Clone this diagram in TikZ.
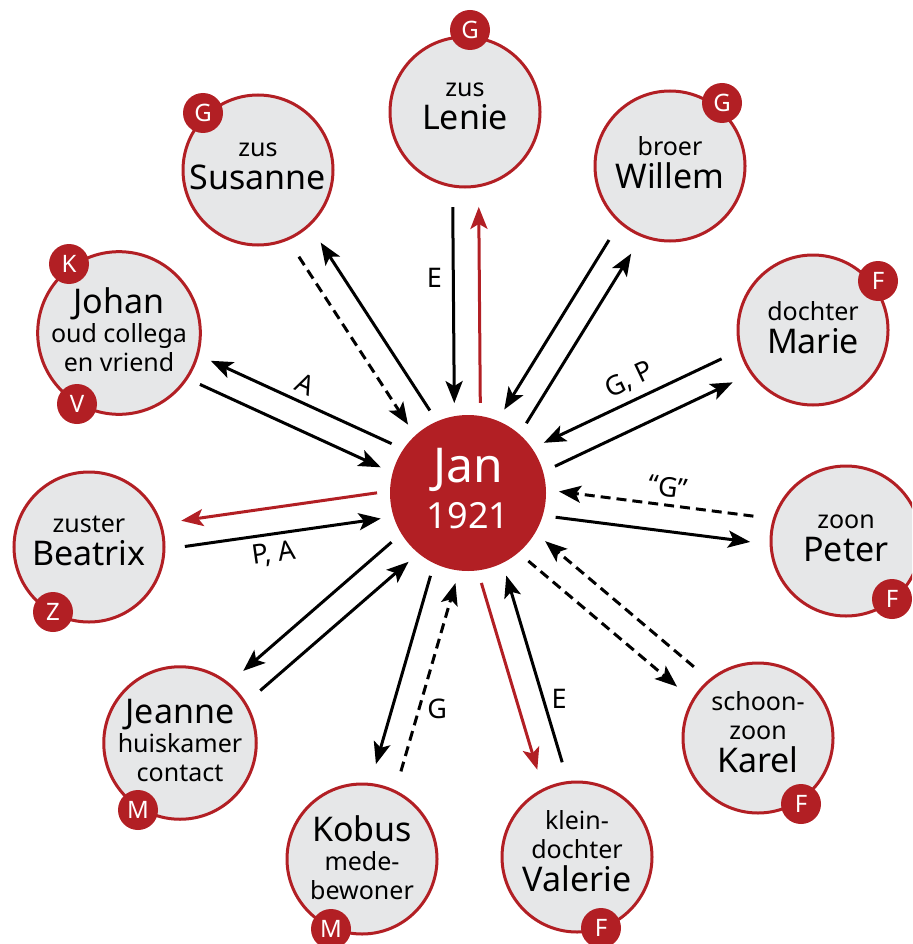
\documentclass[tikz,border=0pt]{standalone}
\usepackage{fontspec}
\setmainfont{Noto Sans}
\usetikzlibrary{arrows.meta,calc}

\definecolor{janred}{RGB}{178,31,36}
\definecolor{circlegray}{RGB}{230,231,232}

\newcommand{\sm}{\fontsize{25}{29}\selectfont}
\newcommand{\nm}{\fontsize{34}{29}\selectfont}

\begin{document}
\begin{tikzpicture}[x=1pt,y=-1pt,
    person/.style={circle,draw=janred,line width=3pt,fill=circlegray,minimum size=150pt,inner sep=0pt,align=center,font=\sm,text depth=12pt},
    badge/.style={circle,fill=janred,text=white,minimum size=40pt,inner sep=0pt,font=\fontsize{24}{24}\selectfont\bfseries},
    link/.style={line width=3pt,-{Stealth[length=22pt,width=17pt,inset=5pt]}},
    back/.style={link,janred},
    hint/.style={link,dash pattern=on 10pt off 6pt},
    lbl/.style={font=\fontsize{27}{27}\selectfont,inner sep=7pt}]

    \pgfmathsetmacro{\janGap}{90}
    \pgfmathsetmacro{\outGap}{95}
    \pgfmathsetmacro{\pairGap}{13}

    \useasboundingbox (0,0) rectangle (912,944);
    \clip (0,0) rectangle (912,944);

    % Jan
    \node[circle,fill=janred,text=white,minimum size=156pt,inner sep=0pt,align=center,
      font=\fontsize{48}{46}\selectfont,text depth=10pt] (jan) at (468,493) {Jan\\\fontsize{36}{46}\selectfont 1921};

    % Familie en contacten
    \node[person] (lenie) at (465,112) {zus\\[4pt]\nm Lenie};
    \node[person,text depth=6pt] (willem) at (670,166) {broer\\[4pt]\nm Willem};
    \node[person,text depth=8pt] (susanne) at (258,170) {zus\\[4pt]\nm Susanne};
    \node[person,text depth=6pt] (marie) at (813,330) {dochter\\[4pt]\nm Marie};
    \node[person,text depth=6pt] (johan) at (119,333) {\nm Johan\\oud collega\\en vriend};
    \node[person,text depth=6pt] (peter) at (846,541) {zoon\\[4pt]\nm Peter};
    \node[person] (beatrix) at (89,547) {zuster\\[4pt]\nm Beatrix};
    \node[person] (karel) at (758,738) {schoon-\\zoon\\[4pt]\nm Karel};
    \node[person,text depth=6pt] (jeanne) at (180,743) {\nm Jeanne\\huiskamer\\contact};
    \node[person] (valerie) at (577,857) {klein-\\dochter\\[4pt]\nm Valerie};
    \node[person,text depth=2pt] (kobus) at (362,859) {\nm Kobus\\mede-\\bewoner};

    % Rollen
    \node[badge] (lenieG) at (470,30) {G};
    \node[badge] (willemG) at (722,103) {G};
    \node[badge] (susanneG) at (203,113) {G};
    \node[badge] (marieF) at (878,281) {F};
    \node[badge] (johanK) at (69,264) {K};
    \node[badge] (johanV) at (77,404) {V};
    \node[badge] (peterF) at (892,599) {F};
    \node[badge] (beatrixZ) at (53,612) {Z};
    \node[badge] (karelF) at (801,804) {F};
    \node[badge] (jeanneM) at (138,810) {M};
    \node[badge] (valerieF) at (601,928) {F};
    \node[badge] (kobusM) at (331,929) {M};

    % Eindpunten: j = kant Jan, p = kant persoon, l/r = baan
    \foreach \p in {lenie,willem,susanne,marie,johan,peter,beatrix,karel,jeanne,valerie,kobus}{
      \coordinate (\p-jl) at ($(jan)!\janGap pt!(\p)!\pairGap pt!90:(\p)$);
      \coordinate (\p-pl) at ($(\p)!\outGap pt!(jan)!\pairGap pt!-90:(jan)$);
      \coordinate (\p-jr) at ($(jan)!\janGap pt!(\p)!-\pairGap pt!90:(\p)$);
      \coordinate (\p-pr) at ($(\p)!\outGap pt!(jan)!-\pairGap pt!-90:(jan)$);
    }

    % Lenie
    \draw[link] (lenie-pl) -- node[lbl,left,pos=.36,inner sep=10pt] (lenieE) {E} (lenie-jl);
    \draw[back] (lenie-jr) -- (lenie-pr);

    % Susanne
    \draw[hint] (susanne-pl) -- (susanne-jl);
    \draw[link] (susanne-jr) -- (susanne-pr);

    % Johan
    \draw[link] (johan-pl) -- (johan-jl);
    \draw[link] (johan-jr) -- node[lbl,above,sloped,pos=.52] (johanA) {A} (johan-pr);

    % Willem
    \draw[link] (willem-pl) -- (willem-jl);
    \draw[link] (willem-jr) -- (willem-pr);

    % Marie
    \draw[link] (marie-pl) -- node[lbl,above,sloped,pos=.47] (marieGP) {G, P} (marie-jl);
    \draw[link] (marie-jr) -- (marie-pr);

    % Peter
    \draw[hint] (peter-pl) -- node[lbl,above,sloped,pos=.45] (peterG) {“G”} (peter-jl);
    \draw[link] (peter-jr) -- (peter-pr);

    % Karel
    \draw[hint] (karel-pl) -- (karel-jl);
    \draw[hint] (karel-jr) -- (karel-pr);

    % Valerie
    \draw[link] (valerie-pl) -- node[lbl,right,pos=.34] (valerieE) {E} (valerie-jl);
    \draw[back] (valerie-jr) -- (valerie-pr);

    % Kobus
    \draw[hint] (kobus-pl) -- node[lbl,right,pos=.33] (kobusG) {G} (kobus-jl);
    \draw[link] (kobus-jr) -- (kobus-pr);

    % Jeanne
    \draw[link] (jeanne-pl) -- (jeanne-jl);
    \draw[link] (jeanne-jr) -- (jeanne-pr);

    % Beatrix
    \draw[link] (beatrix-pl) -- node[lbl,below,sloped,pos=.44] (beatrixPA) {P, A} (beatrix-jl);
    \draw[back] (beatrix-jr) -- (beatrix-pr);
\end{tikzpicture}
\end{document}
